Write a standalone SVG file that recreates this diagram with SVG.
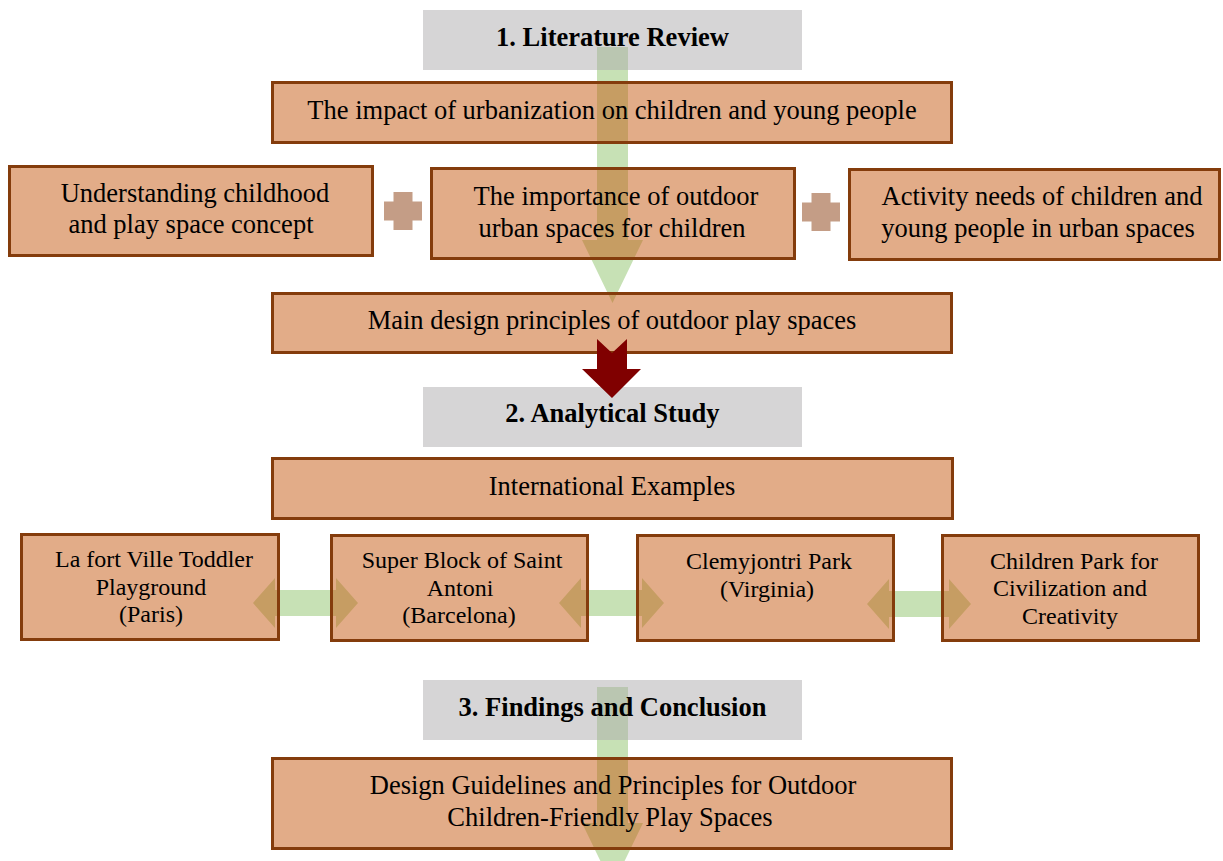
<svg xmlns="http://www.w3.org/2000/svg" width="1223" height="861" viewBox="0 0 1223 861">
<style>
  .hdr { fill: #ADABAD; fill-opacity: 0.5; }
  .box { fill: #C55A11; fill-opacity: 0.5; stroke: #843C0C; stroke-width: 3; }
  .t { font-family: "Liberation Serif", "Times New Roman", serif; font-size: 26.5px; fill: #000; text-anchor: middle; }
  .ts { font-family: "Liberation Serif", "Times New Roman", serif; font-size: 24px; fill: #000; text-anchor: middle; }
  .tb { font-family: "Liberation Serif", "Times New Roman", serif; font-size: 26.5px; font-weight: bold; fill: #000; text-anchor: middle; }
  .green { fill: #A9D18E; fill-opacity: 0.65; }
  .plus { fill: #C49D86; }
  .red { fill: #800000; }
</style>
<rect width="1223" height="861" fill="#FFFFFF"/>

<g id="connectors">
  <polygon class="green" points="597,47 628,47 628,240 643,240 612.5,303 582,240 597,240"/>
  <polygon class="green" points="597,687 628,687 628,823 643,823 612.5,886 582,823 597,823"/>
  <polygon class="green" points="253,603 275,578 275,590 336,590 336,578 358,603 336,628 336,616 275,616 275,628"/>
  <polygon class="green" points="559,603 581,578 581,590 642,590 642,578 664,603 642,628 642,616 581,616 581,628"/>
  <polygon class="green" points="867,604 889,579 889,591 949,591 949,579 971,604 949,629 949,617 889,617 889,629"/>
  <path class="plus" d="M393.5,192 h19 v9.5 h9.5 v19 h-9.5 v9.5 h-19 v-9.5 h-9.5 v-19 h9.5 z"/>
  <path class="plus" d="M811.5,193 h19 v9.5 h9.5 v19 h-9.5 v9.5 h-19 v-9.5 h-9.5 v-19 h9.5 z"/>
</g>

<g id="header-1">
  <rect class="hdr" x="423" y="10" width="379" height="60"/>
  <text class="tb" x="612.5" y="46">1. Literature Review</text>
</g>
<g id="node-impact">
  <rect class="box" x="272.5" y="82.5" width="679" height="60"/>
  <text class="t" x="612" y="119">The impact of urbanization on children and young people</text>
</g>
<g id="node-childhood">
  <rect class="box" x="9.5" y="166.5" width="363" height="89"/>
  <text class="t" x="195" y="202">Understanding childhood</text>
  <text class="t" x="191" y="233">and play space concept</text>
</g>
<g id="node-importance">
  <rect class="box" x="431.5" y="168.5" width="363" height="90"/>
  <text class="t" x="616" y="205">The importance of outdoor</text>
  <text class="t" x="612" y="237">urban spaces for children</text>
</g>
<g id="node-activity">
  <rect class="box" x="849.5" y="169.5" width="370" height="90"/>
  <text class="t" x="1042" y="205">Activity needs of children and</text>
  <text class="t" x="1038" y="237">young people in urban spaces</text>
</g>
<g id="node-principles">
  <rect class="box" x="272.5" y="293.5" width="679" height="59"/>
  <text class="t" x="612" y="329">Main design principles of outdoor play spaces</text>
</g>

<g id="header-2">
  <rect class="hdr" x="423" y="387" width="379" height="60"/>
  <text class="tb" x="612.5" y="422">2. Analytical Study</text>
</g>
<g id="node-international">
  <rect class="box" x="272.5" y="458.5" width="680" height="60"/>
  <text class="t" x="612" y="495">International Examples</text>
</g>
<g id="node-paris">
  <rect class="box" x="21.5" y="534.5" width="257" height="105"/>
  <text class="ts" x="154" y="567">La fort Ville Toddler</text>
  <text class="ts" x="151" y="595">Playground</text>
  <text class="ts" x="151" y="622">(Paris)</text>
</g>
<g id="node-barcelona">
  <rect class="box" x="331.5" y="535.5" width="256" height="105"/>
  <text class="ts" x="462" y="568">Super Block of Saint</text>
  <text class="ts" x="460" y="596">Antoni</text>
  <text class="ts" x="459" y="623">(Barcelona)</text>
</g>
<g id="node-virginia">
  <rect class="box" x="637.5" y="535.5" width="256" height="105"/>
  <text class="ts" x="769" y="569">Clemyjontri Park</text>
  <text class="ts" x="767" y="597">(Virginia)</text>
</g>
<g id="node-civilization">
  <rect class="box" x="942.5" y="535.5" width="256" height="105"/>
  <text class="ts" x="1074" y="569">Children Park for</text>
  <text class="ts" x="1070" y="596">Civilization and</text>
  <text class="ts" x="1070" y="624">Creativity</text>
</g>

<g id="header-3">
  <rect class="hdr" x="423" y="680" width="379" height="60"/>
  <text class="tb" x="612.5" y="716">3. Findings and Conclusion</text>
</g>
<g id="node-guidelines">
  <rect class="box" x="272.5" y="758.5" width="679" height="90"/>
  <text class="t" x="613" y="794">Design Guidelines and Principles for Outdoor</text>
  <text class="t" x="610" y="826">Children-Friendly Play Spaces</text>
</g>

<g id="connectors-overlay">
  <polygon class="red" points="597,339 612,353 627,339 627,369 641,369 612,398 582,369 597,369"/>
</g>
</svg>
